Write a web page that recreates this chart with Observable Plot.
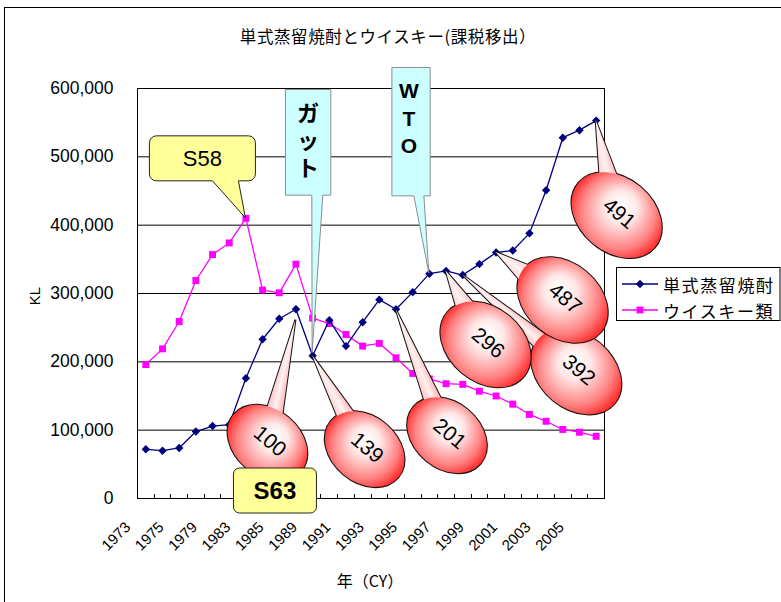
<!DOCTYPE html>
<html>
<head>
<meta charset="utf-8">
<script src="https://cdn.jsdelivr.net/npm/d3@7"></script>
<script src="https://cdn.jsdelivr.net/npm/@observablehq/plot@0.6"></script>
<style>
  body { margin: 0; background: #fff; overflow: hidden; }
  #chart { position: relative; width: 781px; height: 602px; overflow: hidden; font-family: "Liberation Sans", Arial, sans-serif; }
  #chart > svg { position: absolute; left: 0; top: 0; }
  .outer { position: absolute; left: 4px; top: 7px; width: 820px; height: 700px; border-left: 1px solid #000; border-top: 1px solid #000; }
  .lbl { position: absolute; transform: translate(-50%, -50%); white-space: nowrap; color: #000; }
</style>
</head>
<body>
<div id="chart">
  <div class="outer"></div>
  <div class="lbl" style="left:388px; top:36px; font-size:16.5px; font-family:'Noto Sans CJK JP',sans-serif; letter-spacing:0.6px;">単式蒸留焼酎とウイスキー(課税移出）</div>
  <div class="lbl" style="left:34px; top:296px; font-size:15px; transform:translate(-50%,-50%) rotate(-90deg);">KL</div>
  <div class="lbl" style="left:370px; top:580px; font-size:16px; font-family:'Noto Sans CJK JP',sans-serif;">年（CY）</div>
</div>
<script>
// Shipments (kL) of single-distilled shochu and whisky, by calendar year
const years = ["1973","1974","1975","1977","1979","1981","1983","1984","1985","1988",
               "1989","1990","1991","1992","1993","1994","1995","1996","1997","1998",
               "1999","2000","2001","2002","2003","2004","2005","2006"];
const xTickLabels = ["1973","1975","1979","1983","1985","1989","1991","1993","1995","1997","1999","2001","2003","2005"];
const shochu = [72000, 70000, 74000, 98000, 106000, 108000, 176000, 233000, 263000, 277000,
                209000, 261000, 223000, 258000, 291000, 277000, 302000, 329000, 333000, 327000,
                343000, 360000, 363000, 388000, 451000, 528000, 539000, 553000];
const whisky = [196000, 219000, 259000, 319000, 357000, 374000, 410000, 305000, 301000, 343000,
                264000, 256000, 240000, 223000, 227000, 206000, 183000, 175000, 168000, 167000,
                157000, 150000, 138000, 123000, 113000, 101000, 97000, 91000];
const yTicks = [0, 100000, 200000, 300000, 400000, 500000, 600000];
const seriesNames = ["単式蒸留焼酎", "ウイスキー類"];

// Callout annotations
const bubbleText = ["100", "139", "201", "296", "392", "487", "491"];
const bubbleYear = ["1988", "1989", "1994", "1997", "1998", "2000", "2006"];
const eraNotes = ["S58", "S63"];
const eraYears = ["1983", "1988"];
const eventNotes = ["ガット", "WTO"];
const eventYears = ["1989", "1996"];

const rows = years.map((year, i) => ({year, shochu: shochu[i], whisky: whisky[i]}));
const fmt = d3.format(",");
const NAVY = "#000080", MAGENTA = "#ff00ff";

// bubble geometry (pixels, relative to the point each one points at)
const bubbleLayout = [
  {dx: -28, dy: 134, tipDy: 11, a: 44, b: 33},
  {dx: 52.5, dy: 94, a: 44, b: 33},
  {dx: 51.5, dy: 126.5, a: 44, b: 33},
  {dx: 40, dy: 74, a: 50, b: 37},
  {dx: 114, dy: 97, a: 50, b: 37},
  {dx: 67, dy: 48, a: 50, b: 37},
  {dx: 21, dy: 95, a: 50, b: 37}
];
const bubbleOrder = [4, 3, 5, 6, 2, 1, 0];

function rectCallout(x0, y0, x1, y1, r, bx0, bx1, tx, ty) {
  let p = `M${x0 + r},${y0}H${x1 - r}`;
  p += r ? `A${r},${r} 0 0 1 ${x1},${y0 + r}` : "";
  p += `V${y1 - r}`;
  p += r ? `A${r},${r} 0 0 1 ${x1 - r},${y1}` : "";
  if (tx != null) p += `H${bx1}L${tx},${ty}L${bx0},${y1}`;
  p += `H${x0 + r}`;
  p += r ? `A${r},${r} 0 0 1 ${x0},${y1 - r}` : "";
  p += `V${y0 + r}`;
  p += r ? `A${r},${r} 0 0 1 ${x0 + r},${y0}` : "";
  return p + "Z";
}

function xTickMarks(index, scales, values, dimensions) {
  const sx = scales.x;
  const step = sx(years[1]) - sx(years[0]);
  const yb = dimensions.height - dimensions.marginBottom;
  const g = d3.create("svg:g").attr("stroke", "#000").attr("stroke-width", 1);
  years.forEach(y => {
    const x = Math.round(sx(y) + step / 2) + 0.5;
    g.append("line").attr("x1", x).attr("x2", x).attr("y1", yb - 4).attr("y2", yb);
  });
  return g.node();
}

function annotations(index, scales, values, dimensions) {
  const sx = scales.x, sy = scales.y;
  const yb = dimensions.height - dimensions.marginBottom;
  const g = d3.create("svg:g");
  const defs = g.append("defs");
  const at = (yr, arr) => [sx(yr), sy(arr[years.indexOf(yr)])];
  const th = 40 * Math.PI / 180;

  // red speech bubbles
  for (const i of bubbleOrder) {
    const L = bubbleLayout[i];
    const p = at(bubbleYear[i], shochu);
    const tip = [p[0], p[1] + (L.tipDy || 0)];
    const c = [p[0] + L.dx, p[1] + L.dy];
    const phi = Math.atan2(tip[1] - c[1], tip[0] - c[0]);
    const dist = Math.hypot(tip[0] - c[0], tip[1] - c[1]);
    const rr = L.a * L.b / Math.sqrt((L.b * Math.cos(phi - th)) ** 2 + (L.a * Math.sin(phi - th)) ** 2);
    const half = 8 * dist / (dist - rr);
    const nx = -Math.sin(phi), ny = Math.cos(phi);
    const ux = Math.cos(phi), uy = Math.sin(phi);
    const wedge = `M${tip[0]},${tip[1]}L${c[0] + nx * half},${c[1] + ny * half}L${c[0] - nx * half},${c[1] - ny * half}Z`;

    const rg = defs.append("radialGradient").attr("id", "bub" + i).attr("gradientUnits", "userSpaceOnUse")
      .attr("cx", c[0]).attr("cy", c[1]).attr("r", L.a * 1.08)
      .attr("fx", c[0] + ux * L.b * 0.35).attr("fy", c[1] + uy * L.b * 0.35);
    [[0, "#ffffff"], [0.3, "#ffe8e8"], [0.7, "#ff8080"], [1, "#ff0d0d"]]
      .forEach(([o, col]) => rg.append("stop").attr("offset", o).attr("stop-color", col));
    const lg = defs.append("linearGradient").attr("id", "wdg" + i).attr("gradientUnits", "userSpaceOnUse")
      .attr("x1", c[0] + nx * half).attr("y1", c[1] + ny * half).attr("x2", c[0] - nx * half).attr("y2", c[1] - ny * half);
    [[0, "#ff9a9a"], [0.5, "#fff2f2"], [1, "#ffb0b0"]]
      .forEach(([o, col]) => lg.append("stop").attr("offset", o).attr("stop-color", col));

    const b = g.append("g");
    const ell = sel => sel.attr("cx", c[0]).attr("cy", c[1]).attr("rx", L.a).attr("ry", L.b)
      .attr("transform", `rotate(40 ${c[0]} ${c[1]})`);
    // outline pass, then fill pass covers the inner half of the outline
    b.append("path").attr("d", wedge).attr("fill", "none").attr("stroke", "#111").attr("stroke-width", 2);
    b.append("ellipse").call(ell).attr("fill", "none").attr("stroke", "#111").attr("stroke-width", 2);
    b.append("path").attr("d", wedge).attr("fill", `url(#wdg${i})`);
    b.append("ellipse").call(ell).attr("fill", `url(#bub${i})`);
    b.append("text").attr("x", 0).attr("y", 0)
      .attr("transform", `translate(${c[0] + 3},${c[1] - 2}) rotate(40)`)
      .attr("text-anchor", "middle").attr("dominant-baseline", "central")
      .attr("font-size", 21).attr("fill", "#000").text(bubbleText[i]);
  }

  // S63 era box (no pointer), sits on the x axis under the 1988 peak
  {
    const x = sx(eraYears[1]);
    g.append("path").attr("d", rectCallout(x - 62, yb - 30, x + 21, yb + 15, 6))
      .attr("fill", "#ffff99").attr("stroke", "#222").attr("stroke-width", 1);
    g.append("text").attr("x", x - 20.5).attr("y", yb - 7.5).attr("text-anchor", "middle")
      .attr("dominant-baseline", "central").attr("font-size", 24).attr("font-weight", "bold").text(eraNotes[1]);
  }

  // S58 callout pointing at the 1983 whisky peak
  {
    const [x, y] = at(eraYears[0], whisky);
    g.append("path").attr("d", rectCallout(x - 96, y - 82, x + 10, y - 37, 7, x - 33, x - 7, x, y))
      .attr("fill", "#ffff99").attr("stroke", "#222").attr("stroke-width", 1);
    g.append("text").attr("x", x - 43).attr("y", y - 59.5).attr("text-anchor", "middle")
      .attr("dominant-baseline", "central").attr("font-size", 22).text(eraNotes[0]);
  }

  // GATT / WTO callouts with vertical lettering
  const events = [
    {box: [-26.7, -265.7, 18.7, -160], base: [-0.3, 10.7], tipDy: -2.5, cx: -4, first: 21.7,
     font: "'Noto Sans CJK JP', sans-serif", size: 22},
    {box: [-37, -205.7, 1.3, -77.3], base: [-15, -5], tipDy: 0, cx: -20, first: 22.7,
     font: "'Liberation Sans', Arial, sans-serif", size: 21}
  ];
  eventNotes.forEach((note, k) => {
    const E = events[k];
    const [x, y] = at(eventYears[k], shochu);
    const [bx0, by0, bx1, by1] = E.box;
    g.append("path").attr("d", rectCallout(x + bx0, y + by0, x + bx1, y + by1, 0, x + E.base[0], x + E.base[1], x, y + E.tipDy))
      .attr("fill", "#ccffff").attr("stroke", "#8c8c8c").attr("stroke-width", 1);
    const t = g.append("text").attr("text-anchor", "middle").attr("dominant-baseline", "central")
      .attr("font-family", E.font).attr("font-size", E.size).attr("font-weight", "bold");
    Array.from(note).forEach((ch, j) => {
      t.append("tspan").attr("x", x + E.cx).attr("y", y + by0 + E.first + j * 27.5).text(ch);
    });
  });
  return g.node();
}

const plot = Plot.plot({
  width: 781,
  height: 602,
  marginLeft: 137,
  marginRight: 177,
  marginTop: 88,
  marginBottom: 104,
  style: {fontFamily: "'Liberation Sans', Arial, sans-serif", fontSize: "15px", background: "transparent", color: "#000", overflow: "visible"},
  x: {type: "point", domain: years, padding: 0.5, align: 0.5, round: false, axis: null},
  y: {domain: [0, 600000], axis: null},
  marks: [
    Plot.ruleY(yTicks.slice(1, -1), {stroke: "#000", strokeWidth: 1}),
    Plot.frame({stroke: "#000", strokeWidth: 1}),
    xTickMarks,
    Plot.text(yTicks, {y: d => d, frameAnchor: "left", dx: -24, textAnchor: "end", text: d => fmt(d), fontSize: 17.5}),
    Plot.text(xTickLabels, {x: d => d, frameAnchor: "bottom", rotate: -45, textAnchor: "end", dx: -14.5, dy: 29.5, fontSize: 15}),
    Plot.line(rows, {x: "year", y: "whisky", stroke: MAGENTA, strokeWidth: 1.3}),
    Plot.dot(rows, {x: "year", y: "whisky", symbol: "square", r: 3.9, fill: MAGENTA, stroke: "none"}),
    Plot.line(rows, {x: "year", y: "shochu", stroke: NAVY, strokeWidth: 1.3}),
    Plot.dot(rows, {x: "year", y: "shochu", symbol: "diamond2", r: 3.8, fill: NAVY, stroke: "none"}),
    annotations
  ]
});
document.getElementById("chart").appendChild(plot);

// legend box at the right of the plot area
const legend = d3.select("#chart").append("svg")
  .attr("width", 165).attr("height", 56)
  .style("position", "absolute").style("left", "616px").style("top", "267px");
legend.append("rect").attr("x", 0.5).attr("y", 0.5).attr("width", 163.5).attr("height", 53)
  .attr("fill", "#fff").attr("stroke", "#000");
const sym = [d3.symbol(d3.symbolDiamond2, 3.8 * 3.8 * Math.PI), d3.symbol(d3.symbolSquare, 3.9 * 3.9 * Math.PI)];
[NAVY, MAGENTA].forEach((col, i) => {
  const cy = 17 + i * 26;
  legend.append("line").attr("x1", 6).attr("x2", 42).attr("y1", cy).attr("y2", cy).attr("stroke", col).attr("stroke-width", 1.3);
  legend.append("path").attr("d", sym[i]()).attr("transform", `translate(24,${cy})`).attr("fill", col);
  legend.append("text").attr("x", 47).attr("y", cy).attr("dominant-baseline", "central")
    .attr("font-family", "'Noto Sans CJK JP', sans-serif").attr("font-size", 17).attr("letter-spacing", 1.6)
    .text(seriesNames[i]);
});
</script>
</body>
</html>
